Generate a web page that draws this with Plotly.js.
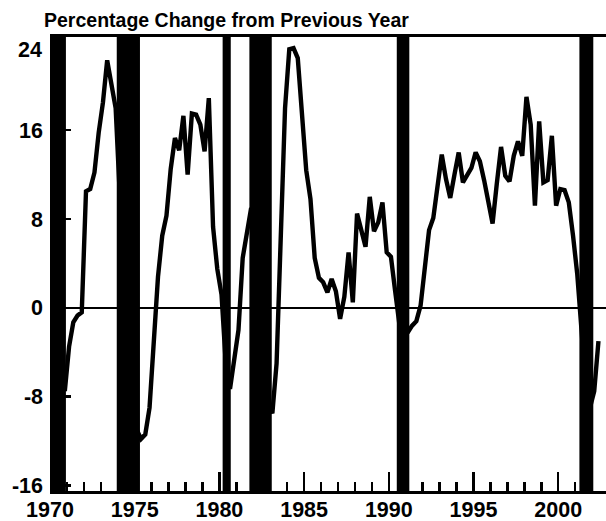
<!DOCTYPE html>
<html><head><meta charset="utf-8">
<script src="https://cdn.plot.ly/plotly-3.0.1.min.js"></script>
<style>html,body{margin:0;padding:0;background:#fff}#chart{width:606px;height:521px}</style>
</head><body><div id="chart"></div>
<script>
const chartTitle = 'Percentage Change from Previous Year';
const startYear = 1970; // quarterly series starts 1970 Q1
const values = [
  1.0, -2.5, -5.5, -7.5,   -3.5, -1.3, -0.7, -0.4,   10.5, 10.7, 12.2, 15.8,   18.5, 22.3, 20.2, 18.0,
  10.0, 3.0, -4.0, -9.0,   -11.0, -11.8, -11.4, -9.0, -2.5, 2.8, 6.5, 8.3,    12.5, 15.3, 14.2, 17.3,
  12.0, 17.5, 17.4, 16.5,  14.1, 18.9, 7.3, 3.5,    1.2, -5.0, -7.3, -4.5,    -2.0, 4.5, 6.5, 9.0,
  5.0, 0.0, -5.0, -8.6,    -9.5, -5.0, 7.0, 18.0,   23.3, 23.4, 22.5, 17.9,   12.4, 9.8, 4.5, 2.7,
  2.3, 1.4, 2.6, 1.5,      -1.0, 1.0, 5.0, 0.5,     8.5, 7.0, 5.5, 10.0,      6.9, 7.7, 9.5, 5.0,
  4.6, 1.5, -1.5, -2.5,    -2.2, -1.6, -1.2, 0.2,   3.8, 7.0, 8.1, 11.0,      13.8, 11.6, 9.9, 12.0,
  14.0, 11.3, 12.0, 12.6,  14.0, 13.2, 11.5, 9.6,   7.6, 11.2, 14.5, 11.9,    11.4, 13.7, 15.0, 13.7,
  19.0, 16.5, 9.2, 16.8,   11.3, 11.5, 15.5, 9.2,   10.7, 10.6, 9.5, 6.5,     3.0, -2.0, -7.0, -9.0,
  -7.5, -3.0
];
const recessionStart = [1969.9, 1973.94, 1980.19, 1981.77, 1990.47, 2001.25];
const recessionEnd   = [1970.94, 1975.31, 1980.67, 1983.09, 1991.21, 2002.07];
const yTickVals = [-16, -8, 0, 8, 16];
const yTickText = ['-16', '-8', '0', '8', '16'];
const yTopLabel = '24';

const xs = values.map((v, i) => startYear + (i + 0.5) / 4);

const font = {family: '"Liberation Sans", Arial, sans-serif', color: '#000', weight: 'bold'};

const shapes = recessionStart.map((s, i) => ({
  type: 'rect', xref: 'x', yref: 'paper', x0: s, x1: recessionEnd[i], y0: 0, y1: 1,
  fillcolor: '#000', line: {width: 0}, layer: 'below'
}));

const data = [{
  type: 'scatter', mode: 'lines', x: xs, y: values,
  line: {color: '#000', width: 4.4}, hoverinfo: 'skip'
}];

const layout = {
  width: 606, height: 521,
  margin: {l: 50, r: 0, t: 37, b: 30, pad: 0},
  paper_bgcolor: '#fff', plot_bgcolor: '#fff', showlegend: false,
  title: {text: chartTitle, font: Object.assign({}, font, {size: 19.5}),
          x: 44 / 606, xanchor: 'left', xref: 'container',
          y: 1 - 20 / 521, yanchor: 'middle', yref: 'container'},
  xaxis: {
    range: [1970, 2002.82], tickmode: 'linear', tick0: 1970, dtick: 5,
    ticks: 'inside', ticklen: 19, tickwidth: 2.5, tickcolor: '#000',
    showline: true, linewidth: 3, linecolor: '#000', mirror: true,
    showgrid: false, zeroline: false,
    tickfont: Object.assign({}, font, {size: 21.5}),
    ticklabelshift: 8.5, ticklabelstandoff: -3,
    minor: {ticks: 'inside', ticklen: 9, tickwidth: 2.5, tickcolor: '#000', dtick: 1, tick0: 1970, showgrid: false}
  },
  yaxis: {
    range: [-16.5, 24.4], tickmode: 'array', tickvals: yTickVals, ticktext: yTickText,
    ticks: 'inside', ticklen: 21, tickwidth: 2.5, tickcolor: '#000',
    showline: false, showgrid: false,
    zeroline: true, zerolinecolor: '#000', zerolinewidth: 2.5,
    tickfont: Object.assign({}, font, {size: 21.5}),
    ticklabelstandoff: 6
  },
  shapes: shapes,
  annotations: [{
    text: yTopLabel, xref: 'paper', x: 0, xanchor: 'right', xshift: -6,
    yref: 'y', y: 24, yanchor: 'top', yshift: 5, showarrow: false,
    font: Object.assign({}, font, {size: 21.5})
  }]
};

Plotly.newPlot('chart', data, layout, {staticPlot: true, displayModeBar: false});
</script></body></html>
